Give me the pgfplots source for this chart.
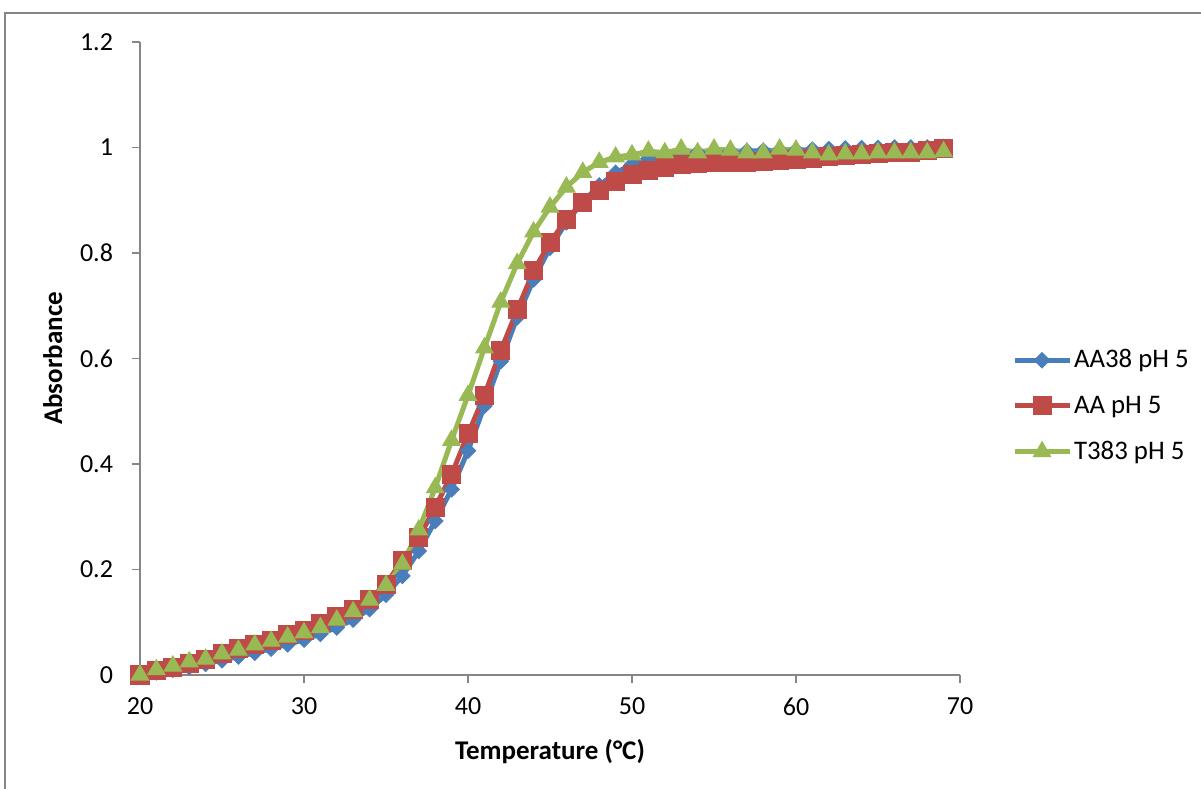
\documentclass[border=0pt]{standalone}
\usepackage{pgfplots}
\pgfplotsset{compat=1.18}
\usepackage{fontspec}
\setmainfont{Carlito}
\definecolor{sblue}{RGB}{74,126,187}
\definecolor{sred}{RGB}{190,75,72}
\definecolor{sgreen}{RGB}{152,185,84}
\definecolor{axgray}{RGB}{134,134,134}

\pgfplotstableread{
x y
20 0.000
21 0.005
22 0.010
23 0.015
24 0.021
25 0.028
26 0.035
27 0.042
28 0.050
29 0.058
30 0.067
31 0.078
32 0.090
33 0.105
34 0.125
35 0.152
36 0.188
37 0.235
38 0.292
39 0.352
40 0.425
41 0.510
42 0.595
43 0.678
44 0.750
45 0.810
46 0.858
47 0.897
48 0.928
49 0.952
50 0.968
51 0.979
52 0.985
53 0.989
54 0.991
55 0.992
56 0.993
57 0.993
58 0.994
59 0.995
60 0.995
61 0.996
62 0.997
63 0.998
64 0.999
65 0.999
66 1.000
67 1.000
68 1.000
69 1.001
}\tblue

\pgfplotstableread{
x y
20 0.000
21 0.008
22 0.015
23 0.022
24 0.030
25 0.040
26 0.050
27 0.057
28 0.066
29 0.076
30 0.085
31 0.097
32 0.110
33 0.125
34 0.144
35 0.172
36 0.218
37 0.260
38 0.318
39 0.380
40 0.457
41 0.530
42 0.615
43 0.692
44 0.766
45 0.820
46 0.864
47 0.896
48 0.919
49 0.935
50 0.948
51 0.957
52 0.963
53 0.967
54 0.969
55 0.972
56 0.972
57 0.972
58 0.974
59 0.976
60 0.978
61 0.980
62 0.982
63 0.984
64 0.986
65 0.988
66 0.990
67 0.991
68 0.995
69 0.999
}\tred

\pgfplotstableread{
x y
20 0.000
21 0.010
22 0.017
23 0.025
24 0.030
25 0.040
26 0.047
27 0.057
28 0.064
29 0.072
30 0.080
31 0.090
32 0.104
33 0.120
34 0.142
35 0.170
36 0.210
37 0.275
38 0.355
39 0.445
40 0.530
41 0.620
42 0.707
43 0.780
44 0.840
45 0.887
46 0.925
47 0.953
48 0.972
49 0.982
50 0.986
51 0.993
52 0.990
53 0.997
54 0.990
55 0.997
56 0.995
57 0.990
58 0.990
59 0.997
60 0.995
61 0.990
62 0.986
63 0.988
64 0.988
65 0.990
66 0.990
67 0.990
68 0.990
69 0.992
}\tgreen

\begin{document}
\begin{tikzpicture}
\useasboundingbox (0,0) rectangle (600.5bp,394.5bp);
\draw[axgray, line width=0.6bp] (2.5bp,0) -- (2.5bp,388bp) -- (600.5bp,388bp);
\begin{axis}[
  at={(70bp,57bp)}, anchor=south west,
  scale only axis, width=410bp, height=316.5bp,
  xmin=20, xmax=70, ymin=0, ymax=1.2,
  xtick={20,30,...,70}, ytick={0,0.2,...,1.2},
  axis x line*=bottom, axis y line*=left,
  axis line style={axgray, line width=0.75bp},
  every tick/.style={axgray, line width=0.75bp},
  tick align=outside, major tick length=4bp,
  /pgf/number format/assume math mode=true,
  ticklabel style={font=\fontsize{13bp}{15bp}\selectfont, text=black},
  xticklabel style={yshift=-4bp},
  yticklabel style={xshift=-6bp},
  xlabel={\textbf{Temperature (°C)}},
  ylabel={\textbf{Absorbance}},
  label style={font=\fontsize{13.5bp}{15bp}\selectfont},
  xlabel style={yshift=-5bp},
  ylabel style={yshift=2bp},
  clip=false,
  legend style={at={(rel axis cs:1.063,0.425)}, anchor=west, draw=none, fill=none,
    font=\fontsize{13.4bp}{16bp}\selectfont, row sep=8.5bp, inner sep=0pt,
    nodes={inner xsep=1bp}},
  legend cell align=left,
  legend image code/.code={
    \draw[#1, mark repeat=2, mark phase=2] plot coordinates {(0bp,0bp) (13.75bp,0bp) (27.5bp,0bp)};
  },
  every axis plot/.append style={line width=2.5bp},
]
\addplot[sblue, mark=square*, mark size=2.7bp, mark options={rotate=45, line width=0.5bp}] table {\tblue};
\addlegendentry{AA38 pH 5}
\addplot[sred, mark=square*, mark size=4.5bp, mark options={line width=0.5bp}] table {\tred};
\addlegendentry{AA pH 5}
\addplot[sgreen, mark=triangle*, mark size=5bp, mark options={line width=0.5bp}] table {\tgreen};
\addlegendentry{T383 pH 5}
\end{axis}
\end{tikzpicture}
\end{document}
